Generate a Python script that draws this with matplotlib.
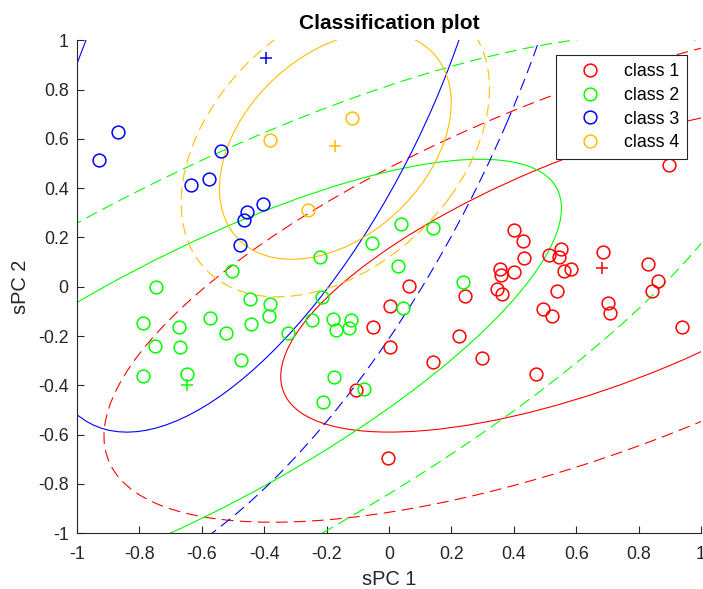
import numpy as np
import matplotlib
matplotlib.use('Agg')
import matplotlib.pyplot as plt
from matplotlib.patches import Ellipse

# ---------------- data ----------------
class_names = ['class 1', 'class 2', 'class 3', 'class 4']
class_colors = ['#FF0000', '#00FF00', '#0000FF', '#FFBF00']

class1_x = [0.063, 0.003, 0.244, -0.052, 0.003, -0.106, 0.223, 0.142, 0.299, 0.470,
            0.400, 0.431, 0.434, 0.356, 0.359, 0.402, 0.346, 0.362, 0.514, 0.551,
            0.544, 0.562, 0.583, 0.540, 0.494, 0.522, 0.685, 0.701, 0.709, 0.829,
            0.863, 0.844, 0.897, 0.938, -0.003]
class1_y = [0.002, -0.080, -0.038, -0.162, -0.246, -0.419, -0.199, -0.307, -0.291, -0.354,
            0.230, 0.185, 0.118, 0.071, 0.046, 0.060, -0.008, -0.030, 0.129, 0.154,
            0.122, 0.062, 0.071, -0.016, -0.090, -0.118, 0.142, -0.065, -0.105, 0.092,
            0.024, -0.016, 0.494, -0.163, -0.695]

class2_x = [-0.747, -0.504, -0.221, -0.053, 0.040, 0.142, 0.028, 0.237, -0.444, -0.382,
            -0.385, -0.573, -0.787, -0.673, -0.524, -0.443, -0.750, -0.669, -0.474, -0.787,
            -0.648, -0.323, -0.248, -0.215, -0.180, -0.171, -0.121, -0.127, -0.177, -0.211,
            -0.080, 0.046]
class2_y = [0.000, 0.064, 0.119, 0.179, 0.255, 0.237, 0.083, 0.020, -0.051, -0.070,
            -0.120, -0.128, -0.146, -0.163, -0.188, -0.153, -0.241, -0.243, -0.299, -0.362,
            -0.356, -0.189, -0.135, -0.040, -0.130, -0.176, -0.137, -0.166, -0.368, -0.466,
            -0.416, -0.086]

class3_x = [-0.929, -0.869, -0.636, -0.577, -0.537, -0.456, -0.464, -0.405, -0.478]
class3_y = [0.514, 0.626, 0.411, 0.436, 0.549, 0.302, 0.272, 0.334, 0.168]

class4_x = [-0.380, -0.118, -0.261]
class4_y = [0.594, 0.684, 0.310]

# class centres (+ markers)
center_x = [0.683, -0.648, -0.395, -0.172]
center_y = [0.075, -0.399, 0.927, 0.572]

# covariance-like shape of each class ellipse
cov_xx = [1.061, 1.442, 0.556, 0.138]
cov_xy = [0.453, 0.861, 0.675, 0.0645]
cov_yy = [0.442, 0.839, 2.301, 0.2125]
# scale of the dashed (outer) ellipse relative to the solid one
dashed_scale = [1.55, 1.55, 1.43, 1.33]

x_ticks = [-1, -0.8, -0.6, -0.4, -0.2, 0, 0.2, 0.4, 0.6, 0.8, 1]
y_ticks = [-1, -0.8, -0.6, -0.4, -0.2, 0, 0.2, 0.4, 0.6, 0.8, 1]
tick_labels = ['-1', '-0.8', '-0.6', '-0.4', '-0.2', '0', '0.2', '0.4', '0.6', '0.8', '1']

# ---------------- plot ----------------
plt.rcParams['font.family'] = ['Liberation Sans', 'DejaVu Sans']
plt.rcParams['lines.scale_dashes'] = False

W, H = 703, 589
fig = plt.figure(figsize=(W / 100, H / 100), dpi=100)
ax = fig.add_axes([77 / W, 1 - 533.2 / H, 624 / W, 493.0 / H])

xs = [class1_x, class2_x, class3_x, class4_x]
ys = [class1_y, class2_y, class3_y, class4_y]

for i in range(4):
    ax.plot(xs[i], ys[i], linestyle='none', marker='o', markersize=9.2,
            markerfacecolor='none', markeredgecolor=class_colors[i],
            markeredgewidth=1.1, label=class_names[i], zorder=3)

for i in range(4):
    C = np.array([[cov_xx[i], cov_xy[i]], [cov_xy[i], cov_yy[i]]])
    vals, vecs = np.linalg.eigh(C)
    angle = np.degrees(np.arctan2(vecs[1, 1], vecs[0, 1]))
    for s, ls in [(1.0, '-'), (dashed_scale[i], (0, (8.5, 4.5)))]:
        e = Ellipse((center_x[i], center_y[i]),
                    width=2 * s * np.sqrt(vals[1]), height=2 * s * np.sqrt(vals[0]),
                    angle=angle, fill=False, edgecolor=class_colors[i],
                    linewidth=0.8, linestyle=ls, zorder=2)
        ax.add_patch(e)
    ax.plot([center_x[i]], [center_y[i]], linestyle='none', marker='+',
            markersize=9, markeredgewidth=1.1, color=class_colors[i], zorder=3)

ax.set_xlim(-1, 1)
ax.set_ylim(-1, 1)
ax.set_xticks(x_ticks)
ax.set_xticklabels(tick_labels)
ax.set_yticks(y_ticks)
ax.set_yticklabels(tick_labels)

for side in ['top', 'right']:
    ax.spines[side].set_visible(False)
for side in ['left', 'bottom']:
    ax.spines[side].set_color('#262626')
    ax.spines[side].set_linewidth(0.8)

ax.tick_params(direction='in', length=5, width=0.8, colors='#262626',
               labelsize=12.8, labelcolor='#262626')
ax.tick_params(axis='x', pad=9)
ax.tick_params(axis='y', pad=6)

ax.set_title('Classification plot', fontsize=15, fontweight='bold', pad=8)
ax.set_xlabel('sPC 1', fontsize=14.4, color='#262626', labelpad=5)
ax.set_ylabel('sPC 2', fontsize=14.4, color='#262626', labelpad=6)

leg = ax.legend(loc='upper right', bbox_to_anchor=((687 - 77) / 624, (533.2 - 55) / 493),
                borderaxespad=0, fontsize=12.8, frameon=True, fancybox=False,
                framealpha=1, edgecolor='#262626', handlelength=2.9,
                handletextpad=0.45, borderpad=0.45, labelspacing=0.38)
leg.get_frame().set_linewidth(0.8)

fig.savefig('out.png', dpi=100)
